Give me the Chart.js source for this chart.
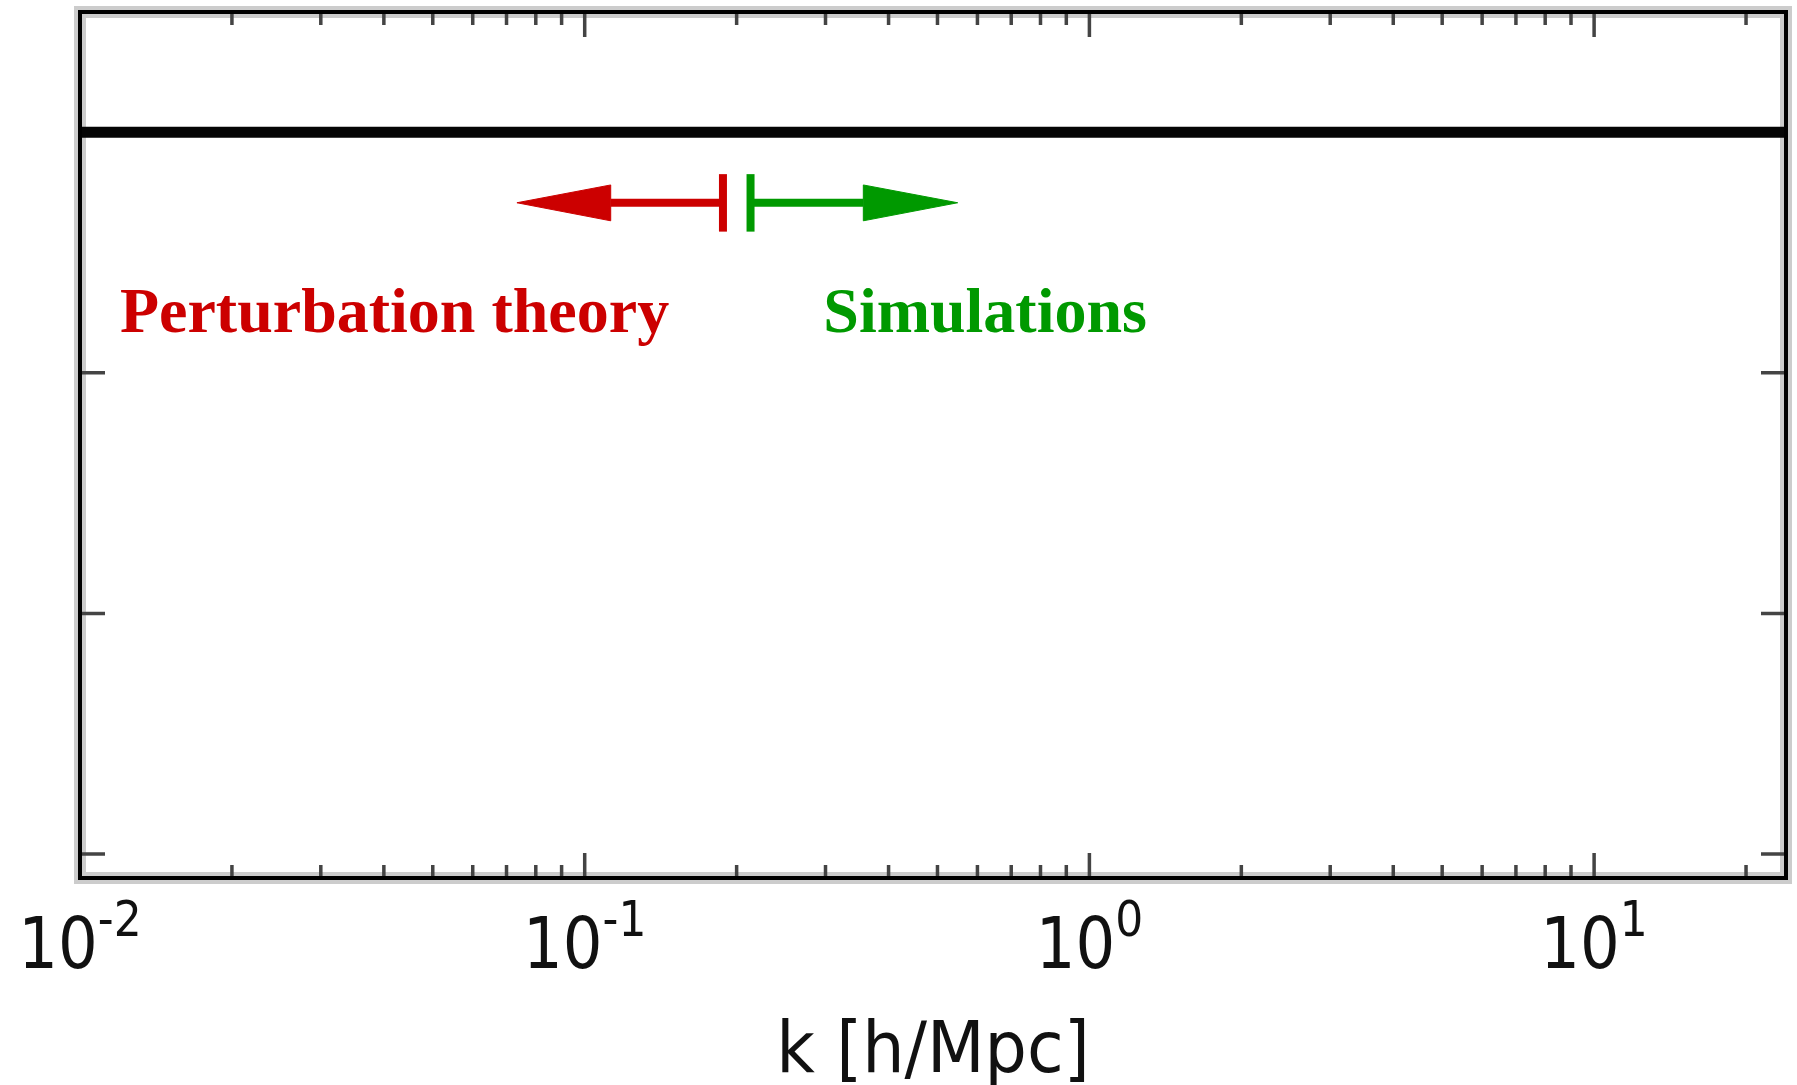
<!DOCTYPE html>
<html>
<head>
<meta charset="utf-8">
<title>k [h/Mpc]</title>
<script src="https://cdn.jsdelivr.net/npm/chart.js@4.4.1/dist/chart.umd.min.js"></script>
<style>
  html, body { margin: 0; padding: 0; background: #fff; }
  #chart { display: block; }
</style>
</head>
<body>
<canvas id="chart" width="1797" height="1085"></canvas>
<script>
// axis ranges and ticks
const kRange = [0.01, 24];
const ratioRange = [0.69, 1.05];
const kMajorTicks = [0.01, 0.1, 1, 10];
const kTickExponents = ['-2', '-1', '0', '1'];
const kMinorTicks = [
  0.02, 0.03, 0.04, 0.05, 0.06, 0.07, 0.08, 0.09,
  0.2, 0.3, 0.4, 0.5, 0.6, 0.7, 0.8, 0.9,
  2, 3, 4, 5, 6, 7, 8, 9,
  20
];
const ratioTicks = [0.7, 0.8, 0.9, 1.0];
const kTitle = 'k [h/Mpc]';

// reference level
const unityK = [0.01, 24];
const unityRatio = 1.0;

// regime arrows: [bar, head base, tip]
const ptArrowK = [0.1879, 0.1126, 0.0734];
const simArrowK = [0.2131, 0.3565, 0.5483];
const arrowRatio = 0.9707;
const barRatio = [0.9587, 0.9826];
const headRatio = [0.9632, 0.9781];

// regime labels
const regimeNames = ['Perturbation theory', 'Simulations'];
const regimeK = [0.012, 0.297];
const regimeRatio = 0.917;
const regimeColors = ['#cc0000', '#009900'];

const seg = (data, color, width) => ({
  data,
  showLine: true,
  borderColor: color,
  backgroundColor: color,
  borderWidth: width,
  borderCapStyle: 'butt',
  pointRadius: 0,
  fill: false
});

const head = (base, tip, color) => ({
  data: [
    { x: base, y: headRatio[1] },
    { x: tip, y: arrowRatio },
    { x: base, y: headRatio[0] },
    { x: base, y: headRatio[1] }
  ],
  showLine: true,
  borderColor: color,
  backgroundColor: color,
  borderWidth: 1,
  pointRadius: 0,
  fill: 'shape'
});

const arrowSets = (k, color) => [
  seg([{ x: k[0], y: arrowRatio }, { x: k[1], y: arrowRatio }], color, 8),
  seg([{ x: k[0], y: barRatio[0] }, { x: k[0], y: barRatio[1] }], color, 8),
  head(k[1], k[2], color)
];

const datasets = [
  seg(unityK.map(k => ({ x: k, y: unityRatio })), '#050505', 11),
  ...arrowSets(ptArrowK, regimeColors[0]),
  ...arrowSets(simArrowK, regimeColors[1])
];

// box, inward ticks, tick labels and text
const framePlugin = {
  id: 'frame',
  beforeDatasetsDraw(chart) {
    const { ctx, chartArea: a, scales: { x, y } } = chart;
    ctx.save();
    ctx.strokeStyle = '#cccccc';
    ctx.lineWidth = 12;
    ctx.strokeRect(a.left, a.top, a.right - a.left, a.bottom - a.top);

    ctx.strokeStyle = '#444444';
    ctx.lineWidth = 3.5;
    const tickK = (v, len) => {
      const px = x.getPixelForValue(v);
      ctx.beginPath();
      ctx.moveTo(px, a.bottom);
      ctx.lineTo(px, a.bottom - len);
      ctx.moveTo(px, a.top);
      ctx.lineTo(px, a.top + len);
      ctx.stroke();
    };
    kMajorTicks.forEach(v => tickK(v, 25));
    kMinorTicks.forEach(v => tickK(v, 13));
    ratioTicks.forEach(v => {
      const py = y.getPixelForValue(v);
      ctx.beginPath();
      ctx.moveTo(a.left, py);
      ctx.lineTo(a.left + 25, py);
      ctx.moveTo(a.right, py);
      ctx.lineTo(a.right - 25, py);
      ctx.stroke();
    });
    ctx.restore();
  },
  afterDatasetsDraw(chart) {
    const { ctx, chartArea: a } = chart;
    ctx.save();
    ctx.strokeStyle = '#000';
    ctx.lineWidth = 4;
    ctx.strokeRect(a.left, a.top, a.right - a.left, a.bottom - a.top);
    ctx.restore();
  },
  afterDraw(chart) {
    const { ctx, chartArea: a, scales: { x, y } } = chart;
    ctx.save();
    ctx.fillStyle = '#111';
    ctx.textBaseline = 'alphabetic';
    ctx.textAlign = 'left';

    // 10^n labels, slightly narrow like the axis text
    kMajorTicks.forEach((v, i) => {
      const px = x.getPixelForValue(v);
      ctx.font = '71px "DejaVu Sans"';
      const wBase = ctx.measureText('10').width;
      ctx.font = '50px "DejaVu Sans"';
      const wExp = ctx.measureText(kTickExponents[i]).width;
      ctx.save();
      ctx.translate(px, 0);
      ctx.scale(0.88, 1);
      const left = -(wBase + wExp) / 2;
      ctx.font = '71px "DejaVu Sans"';
      ctx.fillText('10', left, a.bottom + 90);
      ctx.font = '50px "DejaVu Sans"';
      ctx.fillText(kTickExponents[i], left + wBase, a.bottom + 58);
      ctx.restore();
    });

    ctx.save();
    ctx.translate((a.left + a.right) / 2, 0);
    ctx.scale(0.94, 1);
    ctx.font = '71px "DejaVu Sans"';
    ctx.textAlign = 'center';
    ctx.fillText(kTitle, 0, a.bottom + 194);
    ctx.restore();

    ctx.font = 'bold 64px "Liberation Serif"';
    ctx.textAlign = 'left';
    regimeNames.forEach((name, i) => {
      ctx.fillStyle = regimeColors[i];
      ctx.fillText(name, x.getPixelForValue(regimeK[i]), y.getPixelForValue(regimeRatio));
    });
    ctx.restore();
  }
};

new Chart(document.getElementById('chart'), {
  type: 'scatter',
  data: { datasets },
  options: {
    responsive: false,
    devicePixelRatio: 1,
    animation: false,
    layout: { padding: { left: 80, right: 11, top: 12, bottom: 207 } },
    plugins: {
      legend: { display: false },
      tooltip: { enabled: false }
    },
    scales: {
      x: {
        type: 'logarithmic',
        min: kRange[0],
        max: kRange[1],
        display: false
      },
      y: {
        type: 'linear',
        min: ratioRange[0],
        max: ratioRange[1],
        display: false
      }
    }
  },
  plugins: [framePlugin]
});
</script>
</body>
</html>
